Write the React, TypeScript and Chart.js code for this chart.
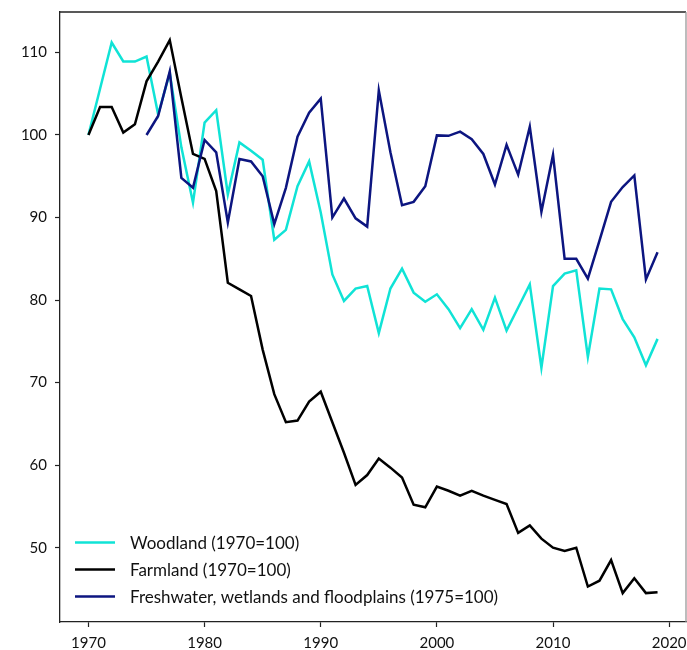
import React, { useEffect, useRef } from "react";
import { Chart, registerables } from "chart.js";

Chart.register(...registerables);

const years = [
  1970, 1971, 1972, 1973, 1974, 1975, 1976, 1977, 1978, 1979,
  1980, 1981, 1982, 1983, 1984, 1985, 1986, 1987, 1988, 1989,
  1990, 1991, 1992, 1993, 1994, 1995, 1996, 1997, 1998, 1999,
  2000, 2001, 2002, 2003, 2004, 2005, 2006, 2007, 2008, 2009,
  2010, 2011, 2012, 2013, 2014, 2015, 2016, 2017, 2018, 2019,
];

const freshwaterYears = [
  1975, 1976, 1977, 1978, 1979,
  1980, 1981, 1982, 1983, 1984, 1985, 1986, 1987, 1988, 1989,
  1990, 1991, 1992, 1993, 1994, 1995, 1996, 1997, 1998, 1999,
  2000, 2001, 2002, 2003, 2004, 2005, 2006, 2007, 2008, 2009,
  2010, 2011, 2012, 2013, 2014, 2015, 2016, 2017, 2018, 2019,
];

const woodland = [
  100, 105.6, 111.2, 108.9, 108.9, 109.5, 102.5, 107.5, 98.5, 91.8,
  101.5, 103.0, 92.8, 99.1, 98.1, 97.0, 87.3, 88.5, 93.8, 96.8,
  90.6, 83.1, 79.9, 81.4, 81.7, 76.0, 81.4, 83.8, 80.9, 79.8,
  80.7, 78.9, 76.6, 78.9, 76.4, 80.3, 76.3, 79.1, 81.9, 71.8,
  81.7, 83.2, 83.6, 73.1, 81.4, 81.3, 77.7, 75.5, 72.1, 75.3,
];

const farmland = [
  100, 103.4, 103.4, 100.3, 101.3, 106.5, 108.9, 111.5, 104.5, 97.7,
  97.1, 93.2, 82.1, 81.3, 80.5, 74.0, 68.6, 65.2, 65.4, 67.7,
  68.9, 65.2, 61.5, 57.6, 58.8, 60.8, 59.7, 58.5, 55.2, 54.9,
  57.4, 56.9, 56.3, 56.9, 56.3, 55.8, 55.3, 51.8, 52.7, 51.1,
  50.0, 49.6, 50.0, 45.3, 46.0, 48.5, 44.5, 46.3, 44.5, 44.6,
];

const freshwater = [
  100, 102.3, 107.7, 94.8, 93.6,
  99.4, 97.9, 89.4, 97.1, 96.8, 95.0, 89.2, 93.6, 99.8, 102.7,
  104.4, 90.0, 92.3, 89.9, 88.9, 105.4, 97.9, 91.5, 91.9, 93.8,
  99.95, 99.9, 100.4, 99.5, 97.7, 94.0, 98.8, 95.2, 101.0, 90.7,
  97.6, 85.0, 85.0, 82.6, 87.2, 91.9, 93.7, 95.1, 82.5, 85.8,
];

const seriesLabels = [
  "Woodland (1970=100)",
  "Farmland (1970=100)",
  "Freshwater, wetlands and floodplains (1975=100)",
];

const xTicks = [1970, 1980, 1990, 2000, 2010, 2020];
const yTicks = [50, 60, 70, 80, 90, 100, 110];

const FONT = "Lato, 'Open Sans', sans-serif";

const framePlugin = {
  id: "frame",
  afterDraw(chart: any) {
    const { ctx, chartArea } = chart;
    ctx.save();
    ctx.lineWidth = 1.3;
    ctx.strokeStyle = "#222";
    ctx.beginPath();
    ctx.moveTo(chartArea.left, chartArea.top);
    ctx.lineTo(chartArea.right, chartArea.top);
    ctx.stroke();
    ctx.strokeStyle = "#999";
    ctx.beginPath();
    ctx.moveTo(chartArea.right, chartArea.top);
    ctx.lineTo(chartArea.right, chartArea.bottom);
    ctx.stroke();
    ctx.restore();
  },
};

const legendPlugin = {
  id: "customLegend",
  afterDraw(chart: any) {
    const { ctx, chartArea } = chart;
    const ds = chart.data.datasets;
    const x0 = chartArea.left + 15;
    const rowH = 27;
    const yStart = chartArea.bottom - 79.5;
    ctx.save();
    ctx.font = `17px ${FONT}`;
    ctx.textBaseline = "middle";
    ctx.textAlign = "left";
    ds.forEach((d: any, i: number) => {
      const y = yStart + i * rowH;
      ctx.strokeStyle = d.borderColor;
      ctx.lineWidth = 2.4;
      ctx.beginPath();
      ctx.moveTo(x0, y);
      ctx.lineTo(x0 + 40, y);
      ctx.stroke();
      ctx.fillStyle = "#111";
      ctx.fillText(d.label, x0 + 55, y + 1);
    });
    ctx.restore();
  },
};

export default function App() {
  const ref = useRef<HTMLCanvasElement | null>(null);

  useEffect(() => {
    if (!ref.current) return;
    const chart = new Chart(ref.current, {
      type: "line",
      data: {
        datasets: [
          {
            label: seriesLabels[0],
            data: years.map((yr, i) => ({ x: yr, y: woodland[i] })),
            borderColor: "#10e3d6",
            borderWidth: 2.5,
            pointRadius: 0,
            tension: 0,
            order: 3,
          },
          {
            label: seriesLabels[1],
            data: years.map((yr, i) => ({ x: yr, y: farmland[i] })),
            borderColor: "#000000",
            borderWidth: 2.5,
            pointRadius: 0,
            tension: 0,
            order: 2,
          },
          {
            label: seriesLabels[2],
            data: freshwaterYears.map((yr, i) => ({ x: yr, y: freshwater[i] })),
            borderColor: "#0c1580",
            borderWidth: 2.5,
            pointRadius: 0,
            tension: 0,
            order: 1,
          },
        ],
      },
      options: {
        animation: false,
        responsive: false,
        devicePixelRatio: 1,
        layout: { padding: { left: 8, top: 12, right: 1, bottom: 0 } },
        plugins: {
          legend: { display: false },
          tooltip: { enabled: false },
        },
        scales: {
          x: {
            type: "linear",
            min: 1967.55,
            max: 2021.45,
            afterBuildTicks: (scale: any) => {
              scale.ticks = xTicks.map((v) => ({ value: v }));
            },
            afterFit: (scale: any) => {
              scale.height = 28;
              scale.paddingLeft = 0;
              scale.paddingRight = 0;
            },
            ticks: {
              autoSkip: false,
              maxRotation: 0,
              padding: 7,
              color: "#111",
              font: { family: FONT, size: 15 },
              callback: (v: any) => String(v),
            },
            grid: {
              drawOnChartArea: false,
              drawTicks: true,
              tickLength: 5,
              tickColor: "#222",
              tickWidth: 1.2,
            },
            border: { display: true, color: "#222", width: 1.3 },
          },
          y: {
            type: "linear",
            min: 41.0,
            max: 114.9,
            afterBuildTicks: (scale: any) => {
              scale.ticks = yTicks.map((v) => ({ value: v }));
            },
            afterFit: (scale: any) => {
              scale.width = 52;
              scale.paddingTop = 0;
              scale.paddingBottom = 0;
            },
            ticks: {
              padding: 8,
              color: "#111",
              font: { family: FONT, size: 15 },
              callback: (v: any) => String(v),
            },
            grid: {
              drawOnChartArea: false,
              drawTicks: true,
              tickLength: 5,
              tickColor: "#222",
              tickWidth: 1.2,
            },
            border: { display: true, color: "#222", width: 1.3 },
          },
        },
      },
      plugins: [framePlugin, legendPlugin],
    });
    return () => chart.destroy();
  }, []);

  return (
    <div style={{ position: "absolute", left: 0, top: 0, width: 687, height: 650, background: "#fff" }}>
      <canvas ref={ref} width={687} height={650} style={{ width: 687, height: 650, display: "block" }} />
    </div>
  );
}
